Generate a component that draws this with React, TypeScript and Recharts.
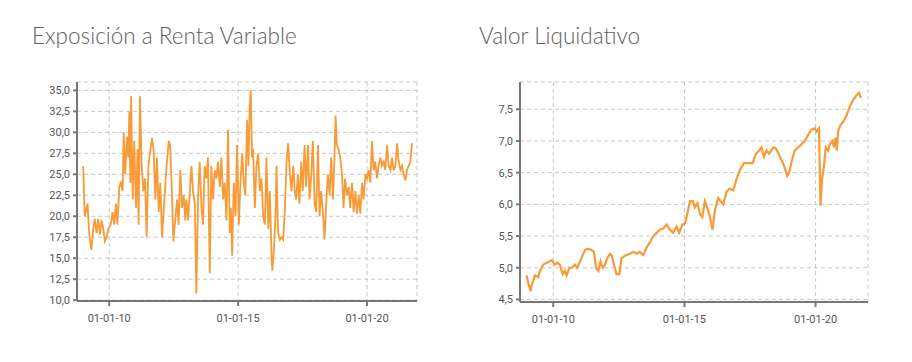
import React from "react";
import { LineChart, Line, XAxis, YAxis, CartesianGrid } from "recharts";

// Exposición a Renta Variable (%), x = decimal year
const expoDates = [
  2008.99, 2009.05, 2009.16, 2009.22, 2009.31, 2009.38, 2009.44, 2009.51, 2009.57, 2009.64,
  2009.7, 2009.77, 2009.83, 2009.9, 2009.96, 2010.06, 2010.13, 2010.19, 2010.26, 2010.32,
  2010.39, 2010.45, 2010.52, 2010.56, 2010.62, 2010.69, 2010.74, 2010.78, 2010.82, 2010.85,
  2010.91, 2010.97, 2011.04, 2011.1, 2011.14, 2011.19, 2011.26, 2011.32, 2011.39, 2011.45,
  2011.52, 2011.58, 2011.66, 2011.72, 2011.79, 2011.85, 2011.92, 2011.98, 2012.05, 2012.14,
  2012.2, 2012.31, 2012.36, 2012.42, 2012.49, 2012.56, 2012.63, 2012.69, 2012.76, 2012.82,
  2012.89, 2012.95,
  2012.99, 2013.06, 2013.12, 2013.19, 2013.25, 2013.32, 2013.38, 2013.45, 2013.51, 2013.58,
  2013.64, 2013.7, 2013.77, 2013.83, 2013.9, 2013.96, 2014.03, 2014.09, 2014.16, 2014.22,
  2014.29, 2014.35, 2014.42, 2014.48, 2014.55, 2014.61, 2014.68, 2014.72, 2014.77, 2014.83,
  2014.9, 2014.96, 2015.03, 2015.09, 2015.16, 2015.22, 2015.28, 2015.35, 2015.4, 2015.45,
  2015.49, 2015.54, 2015.58, 2015.65, 2015.71, 2015.78, 2015.84, 2015.91, 2015.97, 2016.04,
  2016.1, 2016.17, 2016.23, 2016.3, 2016.33, 2016.39, 2016.45, 2016.49, 2016.55, 2016.62,
  2016.68, 2016.75, 2016.81, 2016.88, 2016.94, 2017.01, 2017.07, 2017.14, 2017.2,
  2017.25, 2017.32, 2017.38, 2017.45, 2017.51, 2017.58, 2017.64, 2017.71, 2017.77, 2017.84,
  2017.9, 2017.97, 2018.03, 2018.1, 2018.16, 2018.22, 2018.29, 2018.35, 2018.42, 2018.48,
  2018.55, 2018.61, 2018.68, 2018.74, 2018.78, 2018.83, 2018.9, 2018.96, 2019.03, 2019.09,
  2019.15, 2019.22, 2019.29, 2019.35, 2019.42, 2019.48, 2019.55, 2019.61, 2019.68, 2019.74,
  2019.81, 2019.87, 2019.94, 2020.0, 2020.06, 2020.13, 2020.19, 2020.26, 2020.32, 2020.39,
  2020.45, 2020.52, 2020.58, 2020.65, 2020.71, 2020.78, 2020.84, 2020.91, 2020.97, 2021.04,
  2021.1, 2021.17, 2021.23, 2021.3, 2021.36, 2021.42, 2021.49, 2021.55, 2021.62, 2021.68,
  2021.75,
];
const expoValues = [
  26.0, 20.0, 21.5, 18.0, 16.0, 18.5, 19.7, 18.0, 19.7, 17.8,
  19.5, 18.5, 17.0, 17.5, 18.5, 19.0, 20.5, 19.0, 21.5, 19.0,
  23.5, 24.0, 23.0, 30.0, 25.0, 29.5, 27.0, 32.5, 24.0, 34.3,
  22.0, 29.0, 21.0, 28.0, 19.0, 34.3, 26.0, 23.0, 24.5, 17.5,
  26.0, 27.5, 29.3, 28.0, 22.0, 27.0, 20.5, 24.0, 17.5, 22.0,
  25.0, 29.0, 28.5, 24.0, 17.0, 19.5, 22.0, 19.0, 25.5, 21.0,
  22.5, 19.5,
  22.0, 19.5, 22.5, 26.0, 23.0, 21.5, 10.8, 22.5, 26.5, 21.0,
  19.0, 26.0, 24.5, 27.0, 13.2, 26.0, 22.0, 25.5, 24.5, 26.5,
  23.5, 27.0, 22.0, 24.0, 19.5, 30.3, 18.0, 21.0, 15.3, 24.0,
  20.0, 28.5, 19.0, 24.0, 27.5, 24.0, 22.5, 31.5, 26.0, 33.0,
  35.0, 27.0, 28.0, 21.0, 26.0, 27.5, 23.0, 24.5, 20.0, 19.0,
  27.0, 18.5, 23.0, 15.0, 13.5, 16.0, 20.0, 26.0, 18.0, 17.2,
  17.5, 17.2, 20.5, 26.5, 28.7, 25.0, 23.0, 26.0, 23.0,
  22.0, 25.0, 21.5, 26.5, 23.0, 28.5, 23.5, 28.5, 22.0, 25.0,
  29.0, 21.5, 20.5, 28.5, 20.0, 23.0, 20.5, 17.2, 21.5, 25.0,
  22.5, 27.0, 22.0, 27.0, 32.0, 28.5, 28.0, 27.0, 25.0, 21.0,
  24.5, 22.5, 23.5, 21.0, 24.0, 20.5, 23.0, 20.3, 22.5, 20.3,
  24.0, 22.0, 25.0, 24.5, 25.5, 24.0, 29.0, 25.5, 26.5, 24.5,
  26.0, 27.0, 26.0, 26.5, 25.5, 28.5, 26.0, 25.5, 27.0, 25.5,
  26.0, 28.7, 26.5, 25.5, 26.0, 25.0, 24.3, 25.5, 26.0, 26.5,
  28.7,
];

// Valor Liquidativo
const navDates = [
  2008.98, 2009.05, 2009.14, 2009.17, 2009.24, 2009.3, 2009.43, 2009.49, 2009.62, 2009.75,
  2009.94, 2010.06, 2010.15, 2010.25, 2010.36, 2010.44, 2010.51, 2010.61, 2010.7, 2010.83,
  2010.91, 2011.02, 2011.12, 2011.21, 2011.33, 2011.46, 2011.55, 2011.63, 2011.72, 2011.8,
  2011.88, 2011.97, 2012.06, 2012.16, 2012.22, 2012.31, 2012.41, 2012.52, 2012.6, 2012.69,
  2012.8, 2012.92, 2013.05, 2013.18, 2013.3, 2013.43, 2013.53, 2013.68, 2013.81, 2013.94,
  2014.07, 2014.19, 2014.32, 2014.45, 2014.57, 2014.7, 2014.8, 2014.92, 2015.02, 2015.11,
  2015.21, 2015.31, 2015.4, 2015.5, 2015.59, 2015.68, 2015.78, 2015.87, 2015.97, 2016.07,
  2016.16, 2016.29, 2016.38, 2016.48, 2016.61, 2016.73, 2016.86, 2016.99, 2017.12, 2017.27,
  2017.43, 2017.6, 2017.73, 2017.85, 2017.94, 2018.03, 2018.13, 2018.23, 2018.39, 2018.49,
  2018.59, 2018.7, 2018.81, 2018.92, 2019.0, 2019.1, 2019.21, 2019.34, 2019.47, 2019.59,
  2019.72, 2019.85, 2019.97, 2020.04, 2020.13, 2020.19, 2020.25, 2020.32, 2020.39, 2020.48,
  2020.55, 2020.65, 2020.7, 2020.76, 2020.81, 2020.86, 2020.95, 2021.05, 2021.18, 2021.31,
  2021.44, 2021.56, 2021.66, 2021.71, 2021.75,
];
const navValues = [
  4.88, 4.75, 4.63, 4.72, 4.8, 4.88, 4.85, 4.95, 5.05, 5.08,
  5.12, 5.05, 5.08, 5.05, 4.9, 4.95, 4.88, 5.0, 5.0, 5.05,
  5.0, 5.1, 5.2, 5.28, 5.3, 5.28, 5.25, 5.0, 4.95, 5.1,
  5.0, 5.05, 5.15, 5.22, 5.2, 5.05, 4.9, 4.9, 5.15, 5.18,
  5.2, 5.22, 5.25, 5.22, 5.25, 5.2, 5.3, 5.4, 5.5, 5.55,
  5.6, 5.62, 5.68, 5.6, 5.55, 5.65, 5.55, 5.68, 5.7, 5.85,
  6.05, 6.05, 5.95, 6.02, 5.85, 5.8, 6.05, 5.95, 5.8, 5.6,
  5.9, 6.1, 6.05, 6.0, 6.2, 6.25, 6.22, 6.4, 6.55, 6.65,
  6.65, 6.65, 6.8, 6.85, 6.9, 6.75, 6.85, 6.8, 6.9, 6.88,
  6.8, 6.7, 6.6, 6.45, 6.5, 6.7, 6.85, 6.9, 6.95, 7.0,
  7.1, 7.18, 7.2, 7.15, 7.2, 5.98, 6.4, 6.6, 6.9, 6.85,
  6.95, 7.0, 6.9, 7.05, 6.85, 7.15, 7.25, 7.3, 7.4, 7.55,
  7.65, 7.72, 7.76, 7.7, 7.68,
];

const xTicks = [2010, 2015, 2020];
const expoTicks = [10, 12.5, 15, 17.5, 20, 22.5, 25, 27.5, 30, 32.5, 35];
const navTicks = [4.5, 5, 5.5, 6, 6.5, 7, 7.5];

const expoData = expoDates.map((d, i) => ({ date: d, value: expoValues[i] }));
const navData = navDates.map((d, i) => ({ date: d, value: navValues[i] }));

const fmtDate = (y: number) => "01-01-" + String(Math.round(y)).slice(2);
const fmtNum = (v: number) => v.toFixed(1).replace(".", ",");

const ORANGE = "#F89A36";
const tickStyle = { fontFamily: "Roboto, sans-serif", fontSize: 11, fill: "#555" };
const titleStyle: React.CSSProperties = {
  position: "absolute",
  fontFamily: "Lato, sans-serif",
  fontWeight: 300,
  fontSize: 22.5,
  color: "#606060",
  whiteSpace: "nowrap",
  lineHeight: 1,
};

function Panel(props: {
  data: { date: number; value: number }[];
  xDomain: [number, number];
  yDomain: [number, number];
  yTicks: number[];
  yWidth: number;
  lineWidth: number;
  margin: { top: number; right: number; bottom: number; left: number };
}) {
  const { data, xDomain, yDomain, yTicks, yWidth, lineWidth, margin } = props;
  return (
    <LineChart width={456} height={362} data={data} margin={margin}>
      <CartesianGrid stroke="#c8c8c8" strokeDasharray="4 3" />
      <XAxis
        dataKey="date"
        type="number"
        domain={xDomain}
        allowDataOverflow
        ticks={xTicks}
        tickFormatter={fmtDate}
        tick={tickStyle}
        tickSize={5}
        tickMargin={8}
        height={30}
        stroke="#777"
        strokeWidth={2}
      />
      <XAxis
        xAxisId="top"
        orientation="top"
        dataKey="date"
        type="number"
        domain={xDomain}
        allowDataOverflow
        tick={false}
        tickLine={false}
        height={0}
        stroke="#999"
        strokeWidth={1.5}
      />
      <YAxis
        type="number"
        domain={yDomain}
        allowDataOverflow
        ticks={yTicks}
        tickFormatter={fmtNum}
        tick={tickStyle}
        tickSize={4}
        tickMargin={3}
        width={yWidth}
        stroke="#777"
        strokeWidth={2}
        interval={0}
      />
      <YAxis
        yAxisId="right"
        orientation="right"
        type="number"
        domain={yDomain}
        allowDataOverflow
        tick={false}
        tickLine={false}
        width={0}
        stroke="#999"
        strokeWidth={1.5}
      />
      <Line
        type="linear"
        dataKey="value"
        stroke={ORANGE}
        strokeWidth={lineWidth}
        dot={false}
        isAnimationActive={false}
      />
    </LineChart>
  );
}

export default function App() {
  return (
    <div style={{ position: "absolute", left: 0, top: 0, width: 912, height: 362, background: "#fff" }}>
      <div style={{ ...titleStyle, left: 32, top: 25 }}>Exposición a Renta Variable</div>
      <div style={{ ...titleStyle, left: 479, top: 25 }}>Valor Liquidativo</div>
      <div style={{ position: "absolute", left: 0, top: 0 }}>
        <Panel
          data={expoData}
          xDomain={[2008.75, 2021.94]}
          yDomain={[9.9, 36.0]}
          yTicks={expoTicks}
          yWidth={77}
          lineWidth={1.8}
          margin={{ top: 82, right: 39, bottom: 31, left: 0 }}
        />
      </div>
      <div style={{ position: "absolute", left: 456, top: 0 }}>
        <Panel
          data={navData}
          xDomain={[2008.73, 2022.0]}
          yDomain={[4.46, 7.93]}
          yTicks={navTicks}
          yWidth={64}
          lineWidth={2.2}
          margin={{ top: 82, right: 44, bottom: 30, left: 0 }}
        />
      </div>
    </div>
  );
}
